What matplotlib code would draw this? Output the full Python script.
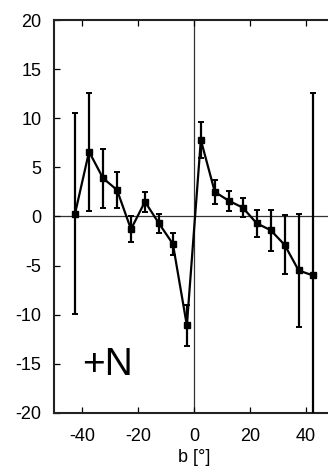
import numpy as np
import matplotlib
matplotlib.use("Agg")
import matplotlib.pyplot as plt

plt.rcParams["font.family"] = ["Liberation Sans", "DejaVu Sans"]
plt.rcParams["axes.unicode_minus"] = False

# latitudine b (centri dei bin da 5 gradi)
b = [-42.5, -37.5, -32.5, -27.5, -22.5, -17.5, -12.5, -7.5, -2.5,
     2.5, 7.5, 12.5, 17.5, 22.5, 27.5, 32.5, 37.5, 42.5]
val = [0.3, 6.6, 3.9, 2.7, -1.3, 1.5, -0.7, -2.8, -11.1,
       7.8, 2.5, 1.6, 0.9, -0.7, -1.4, -2.9, -5.5, -6.0]
err = [10.2, 6.0, 3.0, 1.8, 1.3, 1.0, 1.0, 1.1, 2.1,
       1.8, 1.2, 1.0, 1.0, 1.35, 2.1, 3.0, 5.8, 18.6]

fig = plt.figure(figsize=(3.28, 4.68), dpi=100)
ax = fig.add_axes([0.165, 0.118, 0.852, 0.839])

ax.axhline(0, color="#333", lw=0.9, zorder=1)
ax.axvline(0, color="#333", lw=0.9, zorder=1)
ax.errorbar(b, val, yerr=err, color="black", lw=1.6, marker="s", ms=4.5,
            elinewidth=1.6, capsize=2.2, capthick=1.4, zorder=3)

ax.set_xlim(-50, 50)
ax.set_ylim(-20, 20)
ax.set_xticks([-40, -20, 0, 20, 40])
ax.set_yticks([-20, -15, -10, -5, 0, 5, 10, 15, 20])
ax.tick_params(direction="in", top=True, right=True, length=4, width=0.9,
               labelsize=13)
ax.tick_params(axis="y", pad=9)
ax.tick_params(axis="x", pad=11)
for s in ax.spines.values():
    s.set_linewidth(1.5)
    s.set_color("#222")
ax.set_xlabel("b [°]", fontsize=13, labelpad=3)

ax.text(-40, -15.1, "+N", fontsize=28, ha="left", va="center")

fig.savefig("out.png", dpi=100)
